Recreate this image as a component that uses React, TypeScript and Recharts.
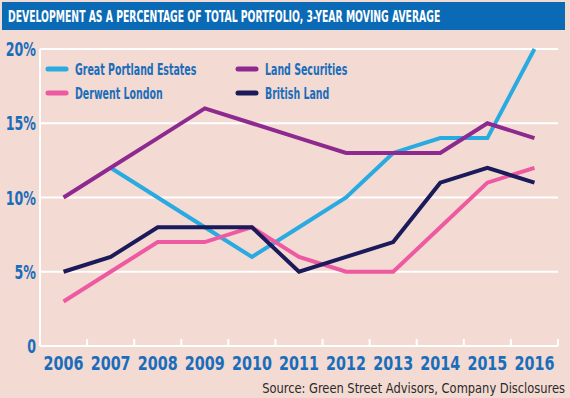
import React from 'react';
import { LineChart, Line, XAxis, YAxis, CartesianGrid, Legend } from 'recharts';

// values, % of total portfolio (3-yr moving average)
const years = ['2006', '2007', '2008', '2009', '2010', '2011', '2012', '2013', '2014', '2015', '2016'];
const greatPortland = [null, 12, 10, 8, 6, 8, 10, 13, 14, 14, 20];
const landSecurities = [10, 12, 14, 16, 15, 14, 13, 13, 13, 15, 14];
const derwentLondon = [3, 5, 7, 7, 8, 6, 5, 5, 8, 11, 12];
const britishLand = [5, 6, 8, 8, 8, 5, 6, 7, 11, 12, 11];
const yTicks = [0, 5, 10, 15, 20];

const series = [
  { key: 'gpe', name: 'Great Portland Estates', color: '#29abe2' },
  { key: 'landsec', name: 'Land Securities', color: '#8e2a8f' },
  { key: 'derwent', name: 'Derwent London', color: '#ee5aa2' },
  { key: 'british', name: 'British Land', color: '#1b1a5a' },
];

const data = years.map((year, i) => ({
  year,
  gpe: greatPortland[i],
  landsec: landSecurities[i],
  derwent: derwentLondon[i],
  british: britishLand[i],
}));

const W = 570;
const H = 398;
const X_AXIS_H = 30;
const Y_AXIS_W = 40;
const M = { top: 49, right: 12, bottom: 52 - X_AXIS_H, left: 0 };
const AXIS_Y = H - 52;
const STEP = (W - M.right - M.left - Y_AXIS_W) / years.length;

const BG = '#f3dad2';
const BLUE = '#1a6dbb';
const COND = "'DejaVu Sans Condensed', 'DejaVu Sans', sans-serif";

// condensed text: squeeze horizontally around the anchor point
const CondText = ({ x, y, sx = 0.8, anchor = 'start', size = 16, weight = 'bold', fill = BLUE, children }: any) => (
  <text
    transform={`translate(${x},${y}) scale(${sx},1)`}
    textAnchor={anchor}
    fontFamily={COND}
    fontSize={size}
    fontWeight={weight}
    fill={fill}
  >
    {children}
  </text>
);

const XTick = (props: any) => {
  const { x, payload } = props;
  const edge = x + STEP / 2;
  return (
    <g>
      <line x1={edge} x2={edge} y1={AXIS_Y - 7} y2={AXIS_Y} stroke="#fff" strokeWidth={2} />
      <CondText x={x} y={AXIS_Y + 24} anchor="middle" size={19} sx={0.84}>
        {payload.value}
      </CondText>
    </g>
  );
};

const YTick = (props: any) => {
  const { y, payload } = props;
  const label = payload.value === 0 ? '0' : `${payload.value}%`;
  return (
    <CondText x={36} y={y + 7} anchor="end" size={19} sx={0.74}>
      {label}
    </CondText>
  );
};

const renderLegend = (props: any) => {
  const { payload } = props;
  const ordered = series.map((s) => payload.find((p: any) => p.value === s.name)).filter(Boolean);
  return (
    <svg width={340} height={44}>
      {ordered.map((entry: any, i: number) => {
        const x0 = (i % 2) * 190;
        const y0 = 8 + Math.floor(i / 2) * 24;
        return (
          <g key={entry.value}>
            <line x1={x0 + 5} x2={x0 + 23} y1={y0} y2={y0} stroke={entry.color} strokeWidth={5} strokeLinecap="round" />
            <CondText x={x0 + 32} y={y0 + 5.5} size={15} sx={0.7}>
              {entry.value}
            </CondText>
          </g>
        );
      })}
    </svg>
  );
};

export default function App() {
  return (
    <div style={{ position: 'absolute', left: 0, top: 0, width: W, height: H, background: BG, overflow: 'hidden' }}>
      <svg width={W} height={32} style={{ position: 'absolute', left: 0, top: 0 }}>
        <rect x={2} y={2} width={563} height={28} fill="#0b6ab5" />
        <CondText x={8} y={22} sx={0.645} size={16} fill="#fff">
          DEVELOPMENT AS A PERCENTAGE OF TOTAL PORTFOLIO, 3-YEAR MOVING AVERAGE
        </CondText>
      </svg>

      <LineChart width={W} height={H} data={data} margin={M}>
        <CartesianGrid horizontal vertical={false} stroke="#fff" strokeWidth={2} />
        <XAxis
          dataKey="year"
          height={X_AXIS_H}
          padding={{ left: STEP / 2, right: STEP / 2 }}
          axisLine={{ stroke: '#fff', strokeWidth: 2 }}
          tickLine={false}
          tick={XTick}
          interval={0}
        />
        <YAxis
          width={Y_AXIS_W}
          domain={[0, 20]}
          ticks={yTicks}
          axisLine={{ stroke: '#fff', strokeWidth: 2 }}
          tickLine={false}
          tick={YTick}
        />
        <Legend
          layout="horizontal"
          verticalAlign="middle"
          align="center"
          content={renderLegend}
          wrapperStyle={{ left: 43, top: 61, width: 340, height: 44 }}
        />
        {series.map((s) => (
          <Line
            key={s.key}
            type="linear"
            dataKey={s.key}
            name={s.name}
            stroke={s.color}
            strokeWidth={4}
            dot={false}
            activeDot={false}
            isAnimationActive={false}
          />
        ))}
      </LineChart>

      <svg width={W} height={24} style={{ position: 'absolute', left: 0, top: H - 24 }}>
        <CondText x={565} y={19} sx={0.88} anchor="end" size={14.5} weight="normal" fill="#2a2a2a">
          Source: Green Street Advisors, Company Disclosures
        </CondText>
      </svg>
    </div>
  );
}
